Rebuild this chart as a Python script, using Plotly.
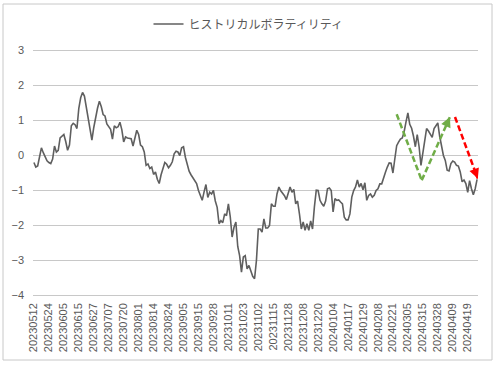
import plotly.graph_objects as go
import pandas as pd

# Japanese market holidays in the period (for trading-day categories)
holidays = ['2023-07-17', '2023-08-11', '2023-09-18', '2023-10-09', '2023-11-03',
            '2023-11-23', '2024-01-01', '2024-01-02', '2024-01-03', '2024-01-08',
            '2024-02-12', '2024-02-23', '2024-03-20']
dates = [d.strftime('%Y%m%d') for d in
         pd.bdate_range('2023-05-12', '2024-04-26', freq='C', holidays=holidays)]

tick_labels = ['20230512', '20230524', '20230605', '20230615', '20230627', '20230707',
               '20230720', '20230801', '20230814', '20230824', '20230905', '20230915',
               '20230928', '20231011', '20231023', '20231102', '20231115', '20231128',
               '20231208', '20231220', '20240104', '20240117', '20240129', '20240208',
               '20240221', '20240305', '20240315', '20240328', '20240409', '20240419']
y_ticks = [-4, -3, -2, -1, 0, 1, 2, 3]

series_name = 'ヒストリカルボラティリティ'
hv = [
    -0.20, -0.33, -0.30, -0.05, 0.22, 0.08, -0.05, -0.15, -0.20, -0.23,
    -0.10, 0.27, 0.10, 0.15, 0.50, 0.56, 0.60, 0.40, 0.15, 0.30,
    0.85, 0.92, 0.88, 0.77, 1.35, 1.65, 1.80, 1.70, 1.40, 1.00,
    0.70, 0.44, 0.80, 1.10, 1.35, 1.55, 1.40, 1.17, 1.13, 0.90,
    0.82, 0.75, 0.47, 0.85, 0.79, 0.82, 0.95, 0.74, 0.39, 0.53,
    0.50, 0.49, 0.48, 0.27, 0.55, 0.72, 0.60, 0.30, 0.25, 0.10,
    -0.28, -0.24, -0.37, -0.33, -0.54, -0.47, -0.68, -0.80, -0.55, -0.40,
    -0.20, -0.25, -0.35, -0.28, -0.18, 0.05, 0.12, 0.10, 0.00, 0.22,
    0.25, -0.05, -0.23, -0.45, -0.55, -0.63, -0.69, -0.80, -1.00, -1.15,
    -1.28, -1.04, -0.83, -1.20, -1.05, -1.10, -1.00, -1.30, -1.48, -1.95,
    -1.86, -1.92, -1.67, -1.72, -1.38, -1.75, -2.33, -2.05, -1.90, -2.60,
    -2.86, -3.33, -2.90, -2.86, -3.24, -3.14, -3.29, -3.45, -3.52, -3.00,
    -2.10, -2.10, -2.19, -1.81, -2.07, -2.07, -2.00, -1.38, -1.45, -1.45,
    -1.10, -0.90, -1.01, -1.07, -1.15, -1.26, -1.07, -0.90, -1.05, -0.97,
    -1.38, -1.30, -1.67, -2.10, -1.90, -2.14, -1.95, -2.14, -1.87, -2.10,
    -1.47, -0.99, -1.00, -1.28, -1.38, -1.45, -1.30, -0.95, -0.93, -1.00,
    -1.61, -1.23, -1.28, -1.27, -1.33, -1.38, -1.76, -1.84, -1.84, -1.67,
    -1.19, -1.00, -0.90, -0.70, -0.90, -0.80, -0.98, -0.78, -1.28, -1.14,
    -1.10, -1.19, -1.14, -1.00, -0.95, -0.81, -0.81, -0.61, -0.48, -0.33,
    -0.21, -0.22, -0.50, -0.10, 0.28, 0.38, 0.47, 0.50, 0.68, 0.96,
    1.22, 0.89, 0.78, 0.55, 0.25, 0.60, 0.25, -0.28, 0.10, 0.38,
    0.77, 0.70, 0.60, 0.52, 0.77, 0.86, 0.93, 0.55, 0.30, 0.00,
    -0.14, -0.42, -0.44, -0.23, -0.16, -0.19, -0.28, -0.30, -0.47, -0.75,
    -0.70, -0.80, -1.05, -0.72, -0.95, -1.12, -0.95, -0.68,
]

# Annotation arrows (category index, value)
green_v = [(194.0, 1.18), (207.4, -0.71), (222.5, 1.10)]
red_arrow = [(225.2, 1.10), (237.4, -0.66)]

W, H = 498, 366
ML, MR, MT, MB = 33, 20, 50, 70
PW, PH = W - ML - MR, H - MT - MB          # PH = 246 -> 35 px per unit + 1 px
FONT = 'Liberation Sans'
GRID = '#c8c8c8'
BORDER = '#c8c8c8'
Y_MIN, Y_MAX = -4, 3
HALF_PX = 0.5 / 35.0  # half a pixel in data units, so 1px gridlines land on whole rows

def px_x(p):
    return (p - ML) / PW

def px_y(p):
    return (H - MB - p) / PH

fig = go.Figure()

shapes = []
# horizontal gridlines at the y-axis ticks, spanning the category axis
for v in y_ticks:
    shapes.append(dict(type='line', xref='x', yref='y', x0=-0.5, x1=len(dates) - 0.5,
                       y0=v, y1=v, layer='below', line=dict(color=GRID, width=1)))
GREEN, RED = '#70ad47', '#ff0000'
DASH = '6px,3px'
for (a, b) in zip(green_v[:-1], green_v[1:]):
    shapes.append(dict(type='line', xref='x', yref='y', x0=a[0], y0=a[1], x1=b[0], y1=b[1],
                       line=dict(color=GREEN, width=2.5, dash=DASH)))
shapes.append(dict(type='line', xref='x', yref='y', x0=red_arrow[0][0], y0=red_arrow[0][1],
                   x1=red_arrow[1][0], y1=red_arrow[1][1],
                   line=dict(color=RED, width=2.5, dash=DASH)))
# chart border
shapes.append(dict(type='rect', xref='paper', yref='paper',
                   x0=px_x(3), x1=px_x(492), y0=px_y(360), y1=px_y(4),
                   line=dict(color=BORDER, width=1)))

fig.add_trace(go.Scatter(
    x=dates, y=hv, mode='lines', name=series_name,
    line=dict(color='#5f5f5f', width=1.6)))

annotations = [
    dict(x=green_v[-1][0], y=green_v[-1][1], xref='x', yref='y', ax=-4, ay=9,
         showarrow=True, arrowhead=2, arrowsize=0.8, arrowwidth=2.5, arrowcolor=GREEN, text=''),
    dict(x=red_arrow[-1][0], y=red_arrow[-1][1], xref='x', yref='y', ax=-3.5, ay=-9,
         showarrow=True, arrowhead=2, arrowsize=0.8, arrowwidth=2.5, arrowcolor=RED, text=''),
]

fig.update_layout(
    template='none',
    width=W, height=H,
    margin=dict(l=ML, r=MR, t=MT, b=MB, autoexpand=False),
    paper_bgcolor='white', plot_bgcolor='rgba(0,0,0,0)',
    font=dict(family=FONT, size=11, color='#595959'),
    showlegend=True,
    legend=dict(orientation='h', x=0.5 - 7 / PW, xanchor='center', y=px_y(24), yanchor='middle',
                font=dict(family='Noto Sans CJK JP', size=12, color='#595959'),
                bgcolor='rgba(0,0,0,0)'),
    shapes=shapes, annotations=annotations,
)
fig.update_xaxes(type='category', categoryorder='array', categoryarray=dates,
                 range=[-0.5, len(dates) - 0.5], automargin=False,
                 tickmode='array', tickvals=tick_labels, ticktext=tick_labels,
                 tickangle=-90, showgrid=False, showline=False, zeroline=False,
                 ticks='', ticklabelstandoff=4,
                 tickfont=dict(family=FONT, size=11, color='#595959'))
fig.update_yaxes(range=[Y_MIN - HALF_PX, Y_MAX + HALF_PX], tickmode='array', tickvals=y_ticks,
                 showgrid=True, gridcolor=GRID, gridwidth=1,
                 zeroline=False, showline=False, ticks='',
                 ticklabelstandoff=8, automargin=False,
                 tickfont=dict(family=FONT, size=11, color='#595959'))

fig.write_html('out.html', config={'displayModeBar': False},
               post_script="document.body.style.margin='0';")
